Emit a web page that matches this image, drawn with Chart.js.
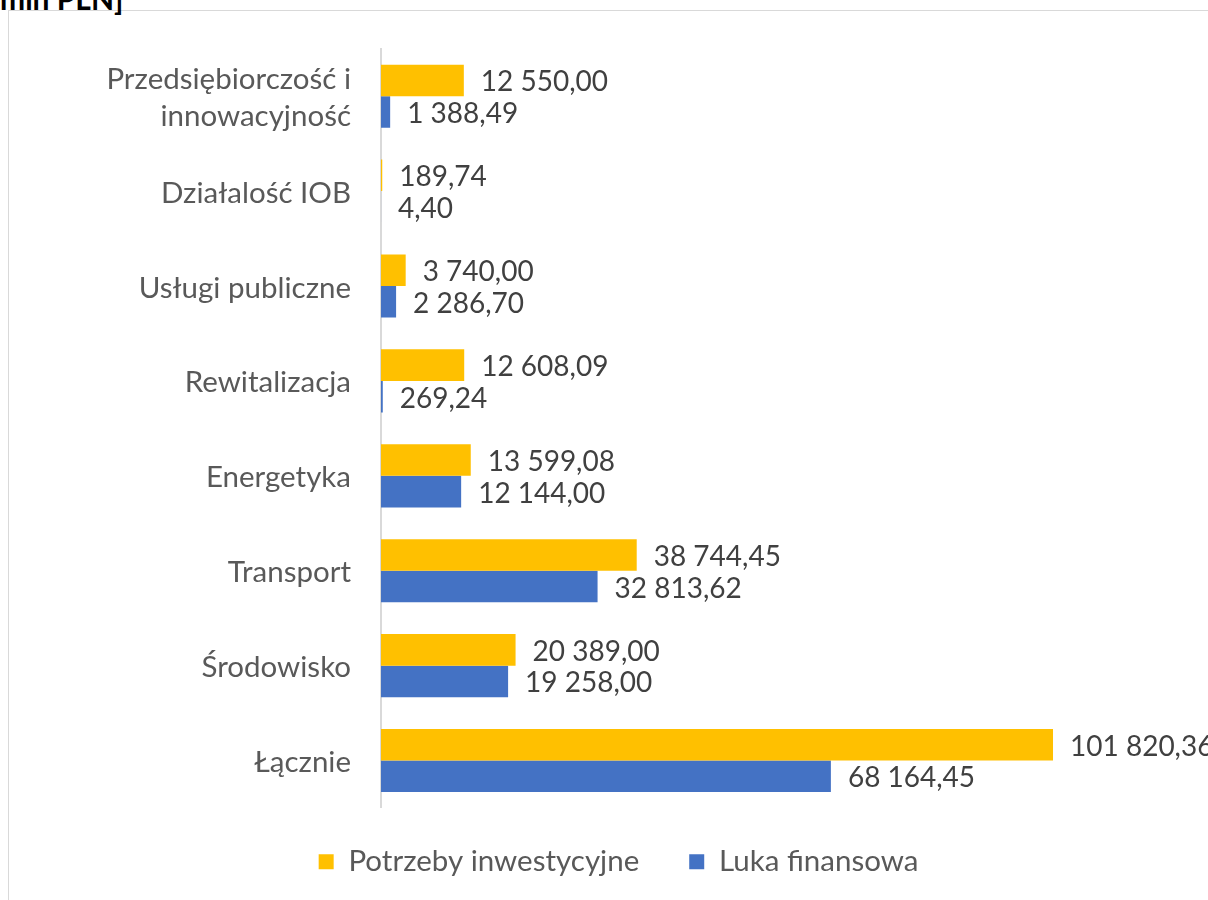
<!DOCTYPE html>
<html>
<head>
<meta charset="utf-8">
<script src="https://cdn.jsdelivr.net/npm/chart.js@4.4.1/dist/chart.umd.min.js"></script>
<style>
  html, body { margin: 0; padding: 0; width: 1208px; height: 900px; overflow: hidden; background: #fff; }
  #frame { position: absolute; left: 8px; top: 10px; width: 1260px; height: 960px; border: 1px solid #d9d9d9; box-sizing: border-box; }
  #head { position: absolute; left: 0px; top: -20px; font-family: Lato, sans-serif; font-weight: bold; font-size: 30px; color: #000; white-space: nowrap; }
  #wrap { position: absolute; left: 0; top: 0; width: 1308px; height: 900px; }
</style>
</head>
<body>
<div id="frame"></div>
<div id="head">mln PLN]</div>
<div id="wrap"><canvas id="c" width="1308" height="900"></canvas></div>
<script>
const categories = [
  ["Przedsiębiorczość i", "innowacyjność"],
  "Działalość IOB",
  "Usługi publiczne",
  "Rewitalizacja",
  "Energetyka",
  "Transport",
  "Środowisko",
  "Łącznie"
];
const potrzebyInwestycyjne = [12550.00, 189.74, 3740.00, 12608.09, 13599.08, 38744.45, 20389.00, 101820.36];
const lukaFinansowa = [1388.49, 4.40, 2286.70, 269.24, 12144.00, 32813.62, 19258.00, 68164.45];
const seriesNames = ["Potrzeby inwestycyjne", "Luka finansowa"];
const seriesColors = ["#FFC000", "#4472C4"];

function fmtPL(v) {
  const parts = v.toFixed(2).split(".");
  const intPart = parts[0].replace(/\B(?=(\d{3})+(?!\d))/g, " ");
  return intPart + "," + parts[1];
}

const FONT = "Lato, sans-serif";

const labelPlugin = {
  id: "valueLabels",
  afterDatasetsDraw(chart) {
    const ctx = chart.ctx;
    ctx.save();
    ctx.font = "28px " + FONT;
    ctx.fillStyle = "#404040";
    ctx.textAlign = "left";
    ctx.textBaseline = "middle";
    chart.data.datasets.forEach((ds, di) => {
      const meta = chart.getDatasetMeta(di);
      meta.data.forEach((el, i) => {
        ctx.fillText(fmtPL(ds.data[i]), el.x + 17, el.y + 2);
      });
    });
    ctx.restore();
  }
};

new Chart(document.getElementById("c"), {
  type: "bar",
  data: {
    labels: categories,
    datasets: [
      { label: seriesNames[0], data: potrzebyInwestycyjne, backgroundColor: seriesColors[0], barPercentage: 1, categoryPercentage: 0.665 },
      { label: seriesNames[1], data: lukaFinansowa, backgroundColor: seriesColors[1], barPercentage: 1, categoryPercentage: 0.665 }
    ]
  },
  options: {
    indexAxis: "y",
    responsive: false,
    animation: false,
    devicePixelRatio: 1,
    layout: { padding: { top: 47, right: 135, bottom: 2.5, left: 64 } },
    scales: {
      x: {
        min: 0, max: 120000,
        display: true,
        grid: { display: false, drawTicks: false },
        border: { display: false },
        ticks: { display: false },
        afterFit(scale) { scale.height = -11; }
      },
      y: {
        grid: { display: false, drawTicks: false },
        border: { display: true, color: "#d9d9d9", width: 2 },
        ticks: { font: { family: FONT, size: 29.5, lineHeight: 1.27 }, color: "#595959", padding: 30, labelOffset: 2 },
        afterFit(scale) { scale.width = 317; }
      }
    },
    plugins: {
      legend: {
        position: "bottom",
        labels: {
          font: { family: FONT, size: 29.5 },
          color: "#595959",
          boxWidth: 15, boxHeight: 15,
          padding: 50
        }
      },
      tooltip: { enabled: false }
    }
  },
  plugins: [labelPlugin]
});
</script>
</body>
</html>
